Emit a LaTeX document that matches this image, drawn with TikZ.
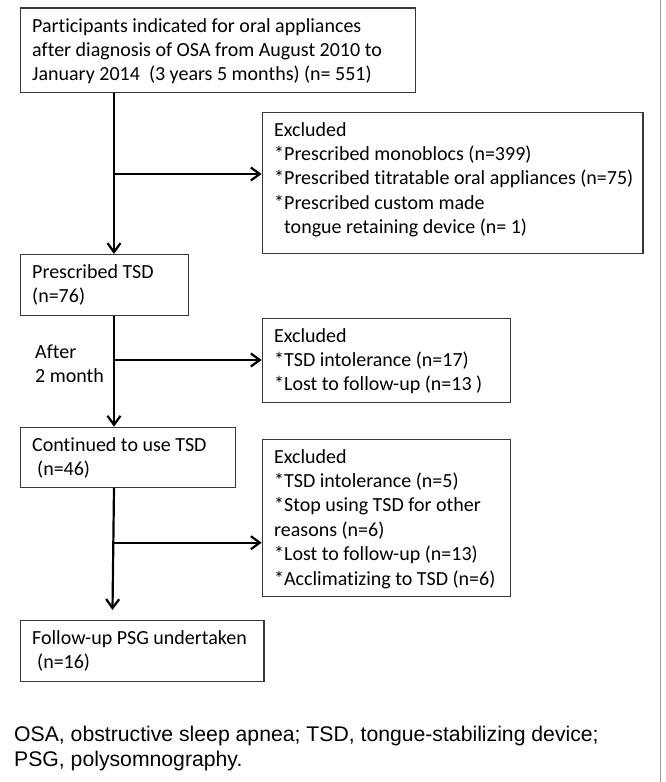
\documentclass[tikz,border=0pt]{standalone}
\usepackage{fontspec}
\setmainfont[Ligatures={NoCommon}]{Carlito}
\newfontfamily\footfont{Liberation Sans}
\usetikzlibrary{arrows.meta}
\begin{document}
\begin{tikzpicture}[x=1pt,y=-1pt,
  boxnode/.style={draw=black!78,line width=1.2pt,inner sep=0pt,anchor=north west},
  txt/.style={inner sep=0pt,anchor=base west,align=left,font=\fontsize{20}{24.4}\selectfont},
  flow/.style={line width=2.2pt,-{Straight Barb[length=9pt,width=13pt,line width=2.2pt]}}]
\useasboundingbox (0,0) rectangle (665,782);
\fill[white] (0,0) rectangle (665,782);
\draw[black!40,line width=1.3pt] (660.7,0) -- (660.7,782);
% boxes
\node[boxnode,minimum width=395.3pt,minimum height=84.7pt] (b1) at (19.7,7.3) {};
\node[boxnode,minimum width=380.6pt,minimum height=141.5pt] (b2) at (261.7,111.5) {};
\node[boxnode,minimum width=167.8pt,minimum height=61pt] (b3) at (19.7,254) {};
\node[boxnode,minimum width=248.3pt,minimum height=84.2pt] (b4) at (261.7,317.5) {};
\node[boxnode,minimum width=215.5pt,minimum height=60pt] (b5) at (19.7,426.7) {};
\node[boxnode,minimum width=247.8pt,minimum height=157.2pt] (b6) at (261.7,438.5) {};
\node[boxnode,minimum width=243.6pt,minimum height=60.7pt] (b7) at (19.7,620) {};
% texts (anchored at the baseline of their last line)
\node[txt] (t1) at (32,80.8) {Participants indicated for oral appliances\\after diagnosis of OSA from August 2010 to\\January 2014~~(3 years 5 months) (n= 551)};
\node[txt] (t2) at (274,233.6) {Excluded\\*Prescribed monoblocs (n=399)\\*Prescribed titratable oral appliances (n=75)\\*Prescribed custom made\\\hspace*{10pt}tongue retaining device (n= 1)};
\node[txt] (t3) at (32,302.9) {Prescribed TSD\\(n=76)};
\node[txt] (t4) at (274,390.8) {Excluded\\*TSD intolerance (n=17)\\*Lost to follow-up (n=13 )};
\node[txt] (t5) at (35,382.4) {After\\2 month};
\node[txt] (t6) at (32,475.9) {Continued to use TSD\\\hspace*{5pt}(n=46)};
\node[txt] (t7) at (274,585) {Excluded\\*TSD intolerance (n=5)\\*Stop using TSD for other\\reasons (n=6)\\*Lost to follow-up (n=13)\\*Acclimatizing to TSD (n=6)};
\node[txt] (t8) at (32,668.9) {Follow-up PSG undertaken\\\hspace*{5pt}(n=16)};
\node[inner sep=0pt,anchor=base west,align=left,font=\footfont\fontsize{21.2}{25}\selectfont] (foot) at (14,766.5) {OSA, obstructive sleep apnea; TSD, tongue-stabilizing device;\\PSG, polysomnography.};
% connectors
\coordinate (sp) at (114,0);
\coordinate (end7) at (112.5,610);
\draw[flow] (b1.south -| sp) -- (b3.north -| sp);
\draw[flow] (sp |- 0,174) -- (b2.west |- 0,174);
\draw[flow] (b3.south -| sp) -- (b5.north -| sp);
\draw[flow] (sp |- 0,360) -- (b4.west |- 0,360);
\draw[flow] (b5.south -| sp) -- (end7);
\draw[flow] (113.7,542.7) -- (b6.west |- 0,542.7);
\end{tikzpicture}
\end{document}
